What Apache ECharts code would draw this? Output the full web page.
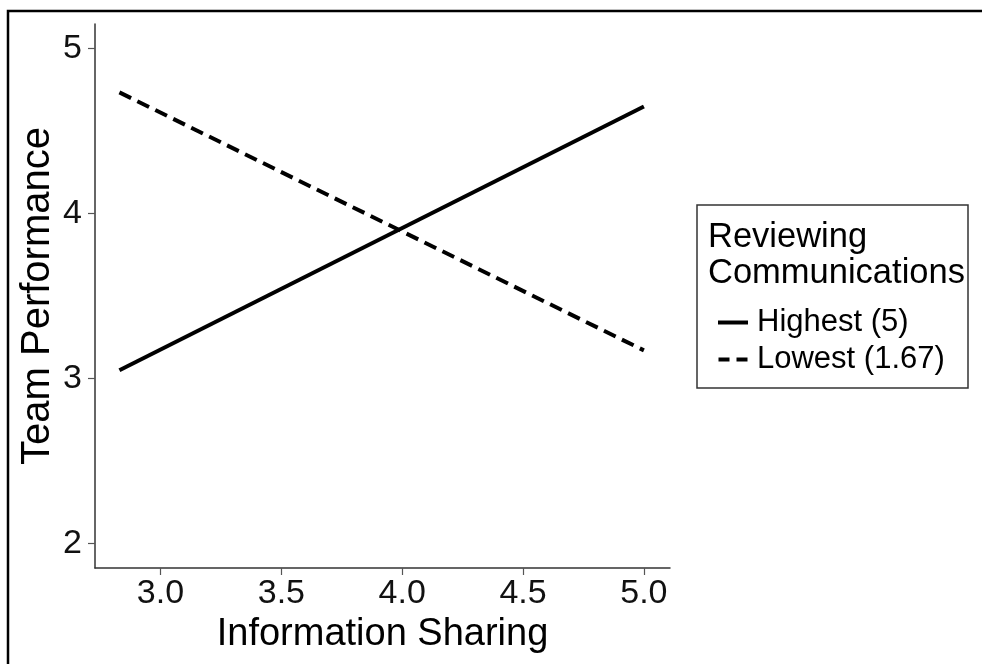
<!DOCTYPE html>
<html>
<head>
<meta charset="utf-8">
<style>
  html, body { margin: 0; padding: 0; background: #fff; }
  #chart { width: 982px; height: 664px; }
</style>
<script src="https://cdn.jsdelivr.net/npm/echarts@6/dist/echarts.min.js"></script>
</head>
<body>
<div id="chart"></div>
<script>
// Simple slopes: team performance vs information sharing,
// at the highest and lowest levels of reviewing communications.
const xTicks = [3.0, 3.5, 4.0, 4.5, 5.0];
const yTicks = [2, 3, 4, 5];
const seriesNames = ['Highest (5)', 'Lowest (1.67)'];
const infoSharing = [2.83, 5.0];
const perfHighest = [3.05, 4.65];
const perfLowest = [4.735, 3.17];
const legendTitle = ['Reviewing', 'Communications'];
const xTitle = 'Information Sharing';
const yTitle = 'Team Performance';

const FONT = 'Liberation Sans, Arial, sans-serif';

const chart = echarts.init(document.getElementById('chart'), null, { renderer: 'canvas' });

function pairs(xs, ys) {
  return xs.map((x, i) => [x, ys[i]]);
}

// legend keys: a solid bar and a two-dash bar
const keySolid = 'path://M0 0H30V4H0Z';
const keyDashed = 'path://M0 0H11V4H0ZM18 0H29V4H18Z';

const option = {
  backgroundColor: '#ffffff',
  animation: false,
  grid: { left: 95, right: 312, top: 24, bottom: 96, containLabel: false },
  xAxis: {
    type: 'value',
    min: 2.729,
    max: 5.108,
    name: xTitle,
    nameLocation: 'middle',
    nameGap: 47,
    nameTextStyle: { fontFamily: FONT, fontSize: 38, color: '#000' },
    axisLine: { show: true, lineStyle: { color: '#333', width: 1.5 } },
    axisTick: { show: true, length: 7, customValues: xTicks, lineStyle: { color: '#555', width: 1.2 } },
    axisLabel: {
      customValues: xTicks,
      fontFamily: FONT, fontSize: 34, color: '#111', margin: 9,
      formatter: v => v.toFixed(1)
    },
    splitLine: { show: false }
  },
  yAxis: {
    type: 'value',
    min: 1.85,
    max: 5.15,
    axisLine: { show: true, lineStyle: { color: '#333', width: 1.5 } },
    axisTick: { show: true, length: 7, customValues: yTicks, lineStyle: { color: '#555', width: 1.2 } },
    axisLabel: {
      customValues: yTicks,
      fontFamily: FONT, fontSize: 34, color: '#111', margin: 13,
      formatter: v => String(v)
    },
    splitLine: { show: false }
  },
  legend: {
    orient: 'vertical',
    left: 713,
    top: 302,
    itemWidth: 30,
    itemHeight: 4,
    itemGap: 6,
    textStyle: { fontFamily: FONT, fontSize: 31, color: '#000', padding: [0, 0, 0, 4] },
    data: [
      { name: seriesNames[0], icon: keySolid, itemStyle: { color: '#000' } },
      { name: seriesNames[1], icon: keyDashed, itemStyle: { color: '#000' } }
    ]
  },
  series: [
    {
      name: seriesNames[0],
      type: 'line',
      data: pairs(infoSharing, perfHighest),
      showSymbol: false,
      symbol: 'none',
      lineStyle: { color: '#000', width: 4, type: 'solid', cap: 'butt' },
      itemStyle: { color: '#000' }
    },
    {
      name: seriesNames[1],
      type: 'line',
      data: pairs(infoSharing, perfLowest),
      showSymbol: false,
      symbol: 'none',
      lineStyle: { color: '#000', width: 4, type: [13, 7], cap: 'butt' },
      itemStyle: { color: '#000' }
    }
  ],
  graphic: [
    // outer frame (top and left edges fall inside the canvas)
    {
      type: 'rect',
      shape: { x: 8, y: 11, width: 1000, height: 700 },
      style: { fill: 'none', stroke: '#000', lineWidth: 2.5 },
      silent: true
    },
    // y-axis title, rotated to read bottom-to-top
    {
      type: 'text',
      x: 38, y: 296,
      rotation: Math.PI / 2,
      style: {
        text: yTitle, font: '40px ' + FONT, fill: '#000',
        align: 'center', verticalAlign: 'middle'
      },
      silent: true
    },
    // legend box
    {
      type: 'rect',
      shape: { x: 697, y: 205, width: 271, height: 183 },
      style: { fill: 'none', stroke: '#333', lineWidth: 1.5 },
      silent: true
    },
    {
      type: 'text',
      left: 708, top: 220,
      style: { text: legendTitle[0], font: '34.5px ' + FONT, fill: '#000' },
      silent: true
    },
    {
      type: 'text',
      left: 708, top: 256,
      style: { text: legendTitle[1], font: '34.5px ' + FONT, fill: '#000' },
      silent: true
    }
  ]
};

chart.setOption(option);
</script>
</body>
</html>
